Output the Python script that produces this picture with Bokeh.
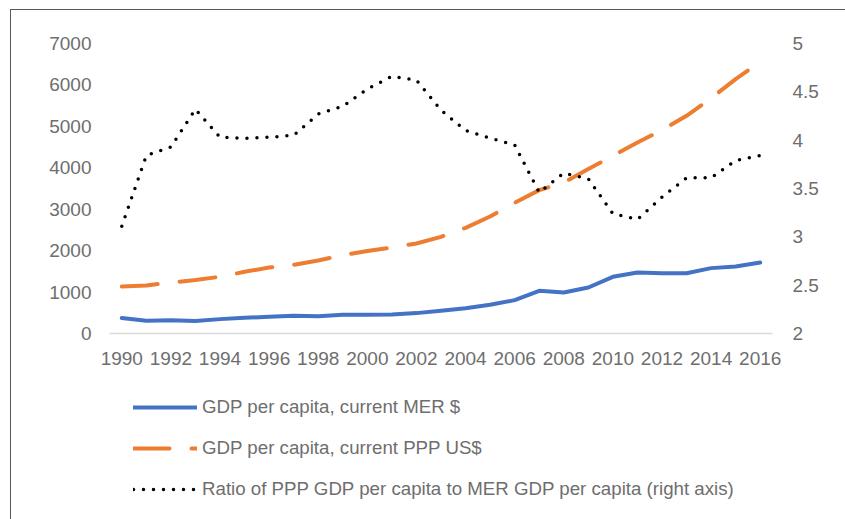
from bokeh.plotting import figure
from bokeh.layouts import column
from bokeh.models import (Range1d, LinearAxis, FixedTicker, CustomJSTickFormatter,
                          Legend, LegendItem, ColumnDataSource)
from bokeh.embed import file_html
from bokeh.resources import INLINE

years = list(range(1990, 2017))
gdp_mer = [372, 306, 322, 300, 347, 379, 403, 427, 419, 451, 451, 459, 492, 548,
           612, 692, 805, 1030, 990, 1110, 1368, 1473, 1455, 1455, 1578, 1617, 1714]
gdp_ppp = [1134, 1159, 1231, 1290, 1370, 1489, 1593, 1658, 1762, 1892, 1989, 2076,
           2173, 2334, 2551, 2824, 3155, 3461, 3645, 3968, 4289, 4610, 4909, 5255,
           5681, 6140, 6558]
ratio = [3.11, 3.84, 3.93, 4.32, 4.03, 4.02, 4.03, 4.05, 4.27, 4.35, 4.53, 4.66,
         4.62, 4.31, 4.10, 4.02, 3.95, 3.46, 3.66, 3.60, 3.24, 3.18, 3.41, 3.61,
         3.61, 3.79, 3.84]
x_ticks = list(range(1990, 2017, 2))
left_ticks = [0, 1000, 2000, 3000, 4000, 5000, 6000, 7000]
right_ticks = [2, 2.5, 3, 3.5, 4, 4.5, 5]
labels = ["GDP per capita, current MER $",
          "GDP per capita, current PPP US$",
          "Ratio of PPP GDP per capita to MER GDP per capita (right axis)"]

FONT = "Liberation Sans"
GREY = "#6e6e6e"
STYLES = [
    dict(line_color="#4472C4", line_width=4, line_cap="round", line_join="round"),
    dict(line_color="#ED7D31", line_width=4, line_dash="36 22", line_cap="round",
         line_join="round"),
    dict(line_color="black", line_width=3.5, line_dash="0 10", line_cap="round",
         line_join="round"),
]

src = ColumnDataSource(dict(year=years, mer=gdp_mer, ppp=gdp_ppp, ratio=ratio))

p = figure(width=845, height=380, output_backend="svg", toolbar_location=None,
           x_range=Range1d(1989.5, 2016.5), y_range=Range1d(0, 7000),
           min_border_left=109, min_border_right=73, min_border_top=43,
           min_border_bottom=47, outline_line_color=None,
           border_fill_color=None, background_fill_color=None)
p.extra_y_ranges = {"ratio": Range1d(2, 5)}
p.xgrid.visible = False
p.ygrid.visible = False

p.line("year", "mer", source=src, **STYLES[0])
p.line("year", "ppp", source=src, **STYLES[1])
p.line("year", "ratio", source=src, y_range_name="ratio", **STYLES[2])

right = LinearAxis(y_range_name="ratio")
p.add_layout(right, "right")

for ax in [p.xaxis[0], p.yaxis[0], right]:
    ax.major_tick_line_color = None
    ax.minor_tick_line_color = None
    ax.major_tick_out = 0
    ax.major_tick_in = 0
    ax.major_label_text_font = FONT
    ax.major_label_text_font_size = "19px"
    ax.major_label_text_color = GREY

p.xaxis[0].ticker = FixedTicker(ticks=x_ticks)
p.xaxis[0].axis_line_color = "#D9D9D9"
p.xaxis[0].axis_line_width = 1.3
p.xaxis[0].major_label_standoff = 18
p.yaxis[0].ticker = FixedTicker(ticks=left_ticks)
p.yaxis[0].axis_line_color = None
p.yaxis[0].major_label_standoff = 18
right.ticker = FixedTicker(ticks=right_ticks)
right.formatter = CustomJSTickFormatter(code="return String(tick);")
right.axis_line_color = None
right.major_label_standoff = 20

# legend panel below the chart (its frame is aligned with the chart's frame)
q = figure(width=845, height=139, output_backend="svg", toolbar_location=None,
           x_range=Range1d(0, 1), y_range=Range1d(0, 1),
           min_border=0, outline_line_color=None,
           border_fill_color=None, background_fill_color=None)
q.axis.visible = False
q.grid.visible = False
nan = float("nan")
dummies = [q.line(x=[nan], y=[nan], **s) for s in STYLES]

legend = Legend(items=[LegendItem(label=l, renderers=[r]) for l, r in zip(labels, dummies)],
                location=(24, 19), orientation="vertical",
                glyph_width=64, glyph_height=22, label_height=22, spacing=19,
                label_standoff=5, padding=0, margin=0,
                border_line_color=None, background_fill_alpha=0,
                label_text_font=FONT, label_text_font_size="18.7px",
                label_text_color=GREY)
q.add_layout(legend, "center")

layout = column(p, q, spacing=0)
layout.styles = {"box-shadow": "inset 10px 9px 0 0 #ffffff, inset 11px 10px 0 0 #595959",
                 "background-color": "#ffffff"}

open("out.html", "w").write(file_html(layout, INLINE))
